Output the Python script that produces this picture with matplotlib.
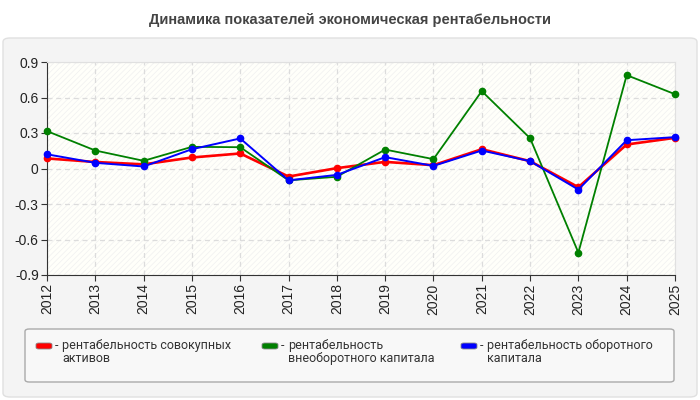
import matplotlib.pyplot as plt
from matplotlib.patches import FancyBboxPatch, Rectangle

plt.rcParams['font.family'] = ['Liberation Sans', 'DejaVu Sans']
plt.rcParams['hatch.color'] = '#f0f0f0'
plt.rcParams['hatch.linewidth'] = 0.5

years = ['2012', '2013', '2014', '2015', '2016', '2017', '2018', '2019',
         '2020', '2021', '2022', '2023', '2024', '2025']
assets_total = [0.085, 0.055, 0.035, 0.093, 0.127, -0.068, 0.003, 0.056,
                0.028, 0.163, 0.062, -0.158, 0.203, 0.259]
assets_fixed = [0.316, 0.152, 0.065, 0.183, 0.180, -0.10, -0.07, 0.160,
                0.079, 0.654, 0.256, -0.711, 0.789, 0.628]
assets_current = [0.12, 0.048, 0.017, 0.163, 0.254, -0.10, -0.054, 0.096,
                  0.022, 0.152, 0.062, -0.178, 0.239, 0.265]
y_ticks = [0.9, 0.6, 0.3, 0, -0.3, -0.6, -0.9]
y_labels = ['0.9', '0.6', '0.3', '0', '-0.3', '-0.6', '-0.9']
labels = ['рентабельность совокупных\nактивов',
          'рентабельность\nвнеоборотного капитала',
          'рентабельность оборотного\nкапитала']
colors = ['#ff0000', '#008000', '#0000ff']

fig = plt.figure(figsize=(7, 4), dpi=100)
fig.patch.set_facecolor('white')

# outer panel
panel = FancyBboxPatch((3 / 700, 3 / 400), 694 / 700, 359 / 400,
                       boxstyle='round,pad=0,rounding_size=0.01',
                       transform=fig.transFigure, facecolor='#f4f4f4',
                       edgecolor='#e0e0e0', linewidth=1, zorder=-2)
fig.patches.append(panel)

fig.text(0.5, 1 - 20 / 400, 'Динамика показателей экономическая рентабельности',
         ha='center', va='center', fontsize=10.5, fontweight='bold', color='#444444')

ax = fig.add_axes([47 / 700, 125 / 400, 628 / 700, 213 / 400])
ax.set_zorder(1)
ax.set_facecolor('#fffffa')
ax.add_patch(Rectangle((0, 0), 1, 1, transform=ax.transAxes, facecolor='none',
                       edgecolor='#f0f0f0', hatch='//////', linewidth=0, zorder=0))

x = list(range(len(years)))
series = [assets_total, assets_fixed, assets_current]
widths = [1.9, 1.3, 1.4]
for i in range(3):
    ax.plot(x, series[i], color=colors[i], linewidth=widths[i], marker='o',
            markersize=4.5, zorder=3 + i, clip_on=False)

ax.set_xlim(0, len(years) - 1)
ax.set_ylim(-0.9, 0.9)
ax.set_xticks(x)
ax.set_xticklabels(years, rotation=90, fontsize=10, color='#222222')
ax.set_yticks(y_ticks)
ax.set_yticklabels(y_labels, fontsize=10, color='#222222')
ax.grid(True, linestyle=(0, (4, 3)), color='#dcdcdc', linewidth=0.9)
ax.set_axisbelow(True)
for s in ['top', 'right']:
    ax.spines[s].set_color('#e0e0e0')
for s in ['left', 'bottom']:
    ax.spines[s].set_color('#333333')
ax.tick_params(length=4, color='#333333', pad=2)

# legend box
leg_box = FancyBboxPatch((25 / 700, 18 / 400), 649 / 700, 53 / 400,
                         boxstyle='round,pad=0,rounding_size=0.006',
                         transform=fig.transFigure, facecolor='#f8f8f8',
                         edgecolor='#aaaaaa', linewidth=1, zorder=-1)
fig.patches.append(leg_box)
leg_x = [36, 262, 461]
for i in range(3):
    fig.patches.append(FancyBboxPatch((leg_x[i] / 700, 51 / 400), 16 / 700, 6 / 400,
                                      boxstyle='round,pad=0,rounding_size=0.004',
                                      transform=fig.transFigure, facecolor=colors[i],
                                      edgecolor='#888888', linewidth=0.6, zorder=0))
    fig.text((leg_x[i] + 19) / 700, 61 / 400, '-', ha='left', va='top',
             fontsize=9, color='#333333', family='Roboto')
    fig.text((leg_x[i] + 26) / 700, 61 / 400, labels[i], ha='left', va='top',
             fontsize=9, color='#333333', linespacing=1.0, family='Roboto')

fig.savefig('out.png', dpi=100, facecolor=fig.get_facecolor())
